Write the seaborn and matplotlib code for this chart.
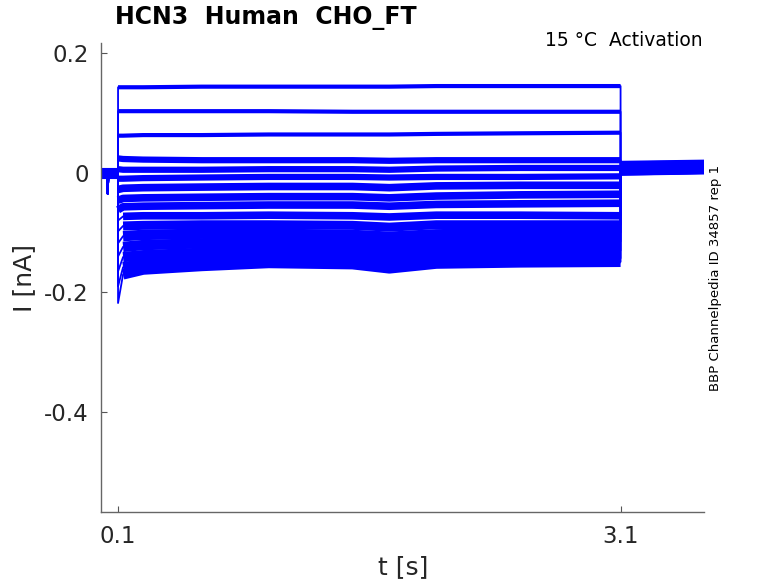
import numpy as np
import pandas as pd
import matplotlib
matplotlib.use("Agg")
import matplotlib.pyplot as plt
import seaborn as sns

# ---- Data (current in nA, time in s) ----
# baseline before the step (shared by all sweeps)
base_t = [0.0, 0.034, 0.038, 0.043, 0.1]
base_i = [0.0, 0.0, -0.035, -0.002, 0.0]

# times at which each sweep's step level was read
knot_t = [0.1, 0.13, 0.25, 0.6, 1.0, 1.5, 1.72, 2.0, 2.5, 3.1]

sweep_levels = [
    [0.143, 0.143, 0.143, 0.144, 0.144, 0.144, 0.144, 0.145, 0.145, 0.145],
    [0.103, 0.103, 0.103, 0.103, 0.103, 0.102, 0.102, 0.102, 0.102, 0.102],
    [0.062, 0.062, 0.063, 0.063, 0.064, 0.064, 0.064, 0.065, 0.066, 0.067],
    [0.024, 0.023, 0.022, 0.021, 0.021, 0.021, 0.020, 0.021, 0.021, 0.021],
    [0.006, 0.005, 0.005, 0.005, 0.006, 0.006, 0.005, 0.007, 0.008, 0.008],
    [-0.010, -0.010, -0.009, -0.008, -0.007, -0.007, -0.008, -0.007, -0.007, -0.006],
    [-0.028, -0.026, -0.025, -0.024, -0.023, -0.023, -0.025, -0.022, -0.021, -0.021],
    [-0.046, -0.043, -0.042, -0.041, -0.040, -0.040, -0.042, -0.039, -0.037, -0.036],
    [-0.062, -0.057, -0.056, -0.055, -0.054, -0.054, -0.056, -0.053, -0.052, -0.051],
    [-0.080, -0.073, -0.072, -0.072, -0.071, -0.072, -0.074, -0.071, -0.071, -0.072],
    [-0.098, -0.089, -0.088, -0.087, -0.087, -0.088, -0.091, -0.087, -0.087, -0.087],
    [-0.118, -0.106, -0.104, -0.102, -0.102, -0.104, -0.107, -0.103, -0.101, -0.100],
    [-0.140, -0.124, -0.121, -0.118, -0.117, -0.119, -0.123, -0.118, -0.116, -0.115],
    [-0.165, -0.141, -0.138, -0.134, -0.132, -0.135, -0.139, -0.133, -0.131, -0.130],
    [-0.190, -0.158, -0.153, -0.148, -0.145, -0.148, -0.153, -0.146, -0.144, -0.143],
    [-0.218, -0.170, -0.162, -0.156, -0.151, -0.153, -0.160, -0.152, -0.150, -0.149],
]

# tail after the step (3.1 s -> 3.6 s)
tail_t = [3.1, 3.6]
tail_start = [0.013, 0.012, 0.011, 0.010, 0.009, 0.008, 0.007, 0.006,
              0.005, 0.005, 0.004, 0.004, 0.003, 0.003, 0.002, 0.002]
tail_end = [0.015, 0.014, 0.013, 0.012, 0.011, 0.010, 0.009, 0.008,
            0.008, 0.007, 0.007, 0.006, 0.006, 0.005, 0.005, 0.004]

# apparent noise band of each sweep (line width, pt)
sweep_width = [3.0, 3.0, 3.0, 4.5, 4.5, 4.5, 5.5, 5.5,
               5.5, 5.5, 6.5, 7.5, 7.5, 7.5, 7.5, 7.5]

x_ticks = [0.1, 3.1]
y_ticks = [0.2, 0.0, -0.2, -0.4]
y_ticklabels = ["0.2", "0", "-0.2", "-0.4"]

BLUE = "#0000ff"

sns.set_style("ticks")
plt.rcParams["font.family"] = ["DejaVu Sans"]

fig = plt.figure(figsize=(7.78, 5.83), dpi=100)
ax = fig.add_axes([0.1302, 0.1213, 0.7751, 0.8049])

for k, levels in enumerate(sweep_levels):
    full_t = base_t + knot_t + tail_t
    full_i = base_i + levels + [tail_start[k], tail_end[k]]
    # thin trace (carries the vertical steps and onset transient)
    sns.lineplot(x=full_t, y=full_i, ax=ax, color=BLUE, lw=1.3,
                 sort=False, estimator=None)
    # noisy bands drawn as thick strokes
    first = 0 if abs(levels[0] - levels[1]) < 0.005 else 1
    sns.lineplot(x=knot_t[first:], y=levels[first:], ax=ax, color=BLUE,
                 lw=sweep_width[k], sort=False, estimator=None,
                 solid_capstyle="butt")
    sns.lineplot(x=tail_t, y=[tail_start[k], tail_end[k]], ax=ax, color=BLUE,
                 lw=6, sort=False, estimator=None, solid_capstyle="butt")

sns.lineplot(x=[base_t[0], base_t[-1]], y=[base_i[0], base_i[-1]], ax=ax,
             color=BLUE, lw=8, sort=False, estimator=None,
             solid_capstyle="butt")

ax.set_xlim(0, 3.6)
ax.set_ylim(-0.568, 0.217)
ax.set_xticks(x_ticks)
ax.set_xticklabels(["0.1", "3.1"])
ax.set_yticks(y_ticks)
ax.set_yticklabels(y_ticklabels)
ax.tick_params(direction="in", length=4.3, width=0.8, color="#555555",
               labelsize=16.5, labelcolor="#262626", pad=9,
               left=True, bottom=True)

sns.despine(ax=ax)
for side in ["left", "bottom"]:
    ax.spines[side].set_color("#666666")
    ax.spines[side].set_linewidth(1.0)

ax.set_xlabel("t [s]", fontsize=18, color="#262626", labelpad=5)
ax.set_ylabel("I [nA]", fontsize=18, color="#262626", labelpad=6)

fig.text(115 / 778, 1 - 18 / 583, "HCN3  Human  CHO_FT", fontsize=17,
         fontweight="bold", ha="left", va="center", color="black")
fig.text(703 / 778, 1 - 40 / 583, "15 \u00b0C  Activation", fontsize=13.5,
         ha="right", va="center", color="black")
fig.text(716 / 778, 1 - 277.5 / 583, "BBP Channelpedia ID 34857 rep 1",
         fontsize=9.5, rotation=90, ha="center", va="center", color="black")

fig.savefig("out.png", dpi=100)
